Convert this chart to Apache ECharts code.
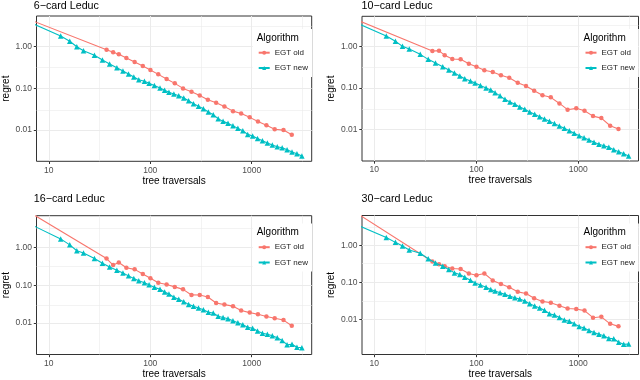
<!DOCTYPE html>
<html>
<head>
<meta charset="utf-8">
<script src="https://cdn.jsdelivr.net/npm/echarts@6/dist/echarts.min.js"></script>
<style>
  html, body { margin: 0; padding: 0; background: #fff; }
  #chart { width: 640px; height: 380px; }
</style>
</head>
<body>
<div id="chart"></div>
<script>
// ---- data ----
const panelTitles = ['6−card Leduc', '10−card Leduc', '16−card Leduc', '30−card Leduc']
const seriesNames = ['EGT old', 'EGT new']
const xTicks = [10, 100, 1000]
const yTicks = [0.01, 0.1, 1]
const xMinor = [31.62, 316.2, 3162] // half-decade grid lines
const yMinor = [0.003162, 0.03162, 0.3162, 3.162]
const xLimits = [7.57, 3900]
const yLimits = [[0.001786, 5.445], [0.001722, 5.284], [0.001476, 6.902], [0.001109, 6.397]]

// tree traversals (first point lies left of the visible range)
const xOld = [6, 37.1, 43.1, 49, 58.2, 70.2, 84.5, 100.4, 120, 145, 174.5, 210.5, 255, 307.5, 369.5, 446, 538, 654, 786.5, 956, 1152, 1396, 1685, 2056, 2481]
const xNew = [6, 13.1, 16.1, 18.9, 22.0, 28.2, 33.8, 39.8, 46.9, 53.8, 61.1, 68.9, 77.1, 87.7, 97.3, 109.8, 124.8, 138.6, 152.8, 171,
  191, 214, 239, 267, 299, 334, 374, 418, 467, 522, 584, 653, 730, 817, 913, 1021, 1141, 1276, 1427, 1596, 1785, 1995, 2231, 2495, 2790, 3119]

// regret
const regretOld6 = [4.79, 0.849, 0.733, 0.656, 0.536, 0.430, 0.344, 0.276, 0.217, 0.168, 0.132, 0.100, 0.0834, 0.0675, 0.0537, 0.0455, 0.0367, 0.0285, 0.0250, 0.0202, 0.0160, 0.0131, 0.0105, 0.0100, 0.0077]
const regretNew6 = [4.17, 1.81, 1.35, 1.00, 0.803, 0.621, 0.480, 0.385, 0.314, 0.261, 0.221, 0.188, 0.162, 0.148, 0.132, 0.118, 0.102, 0.0898, 0.0804, 0.0733,
  0.0668, 0.0588, 0.0507, 0.0430, 0.0371, 0.0326, 0.0271, 0.0234, 0.0188, 0.0162, 0.0145, 0.0127, 0.0110, 0.00966, 0.00789, 0.00719, 0.00632, 0.00556, 0.00489, 0.00438, 0.00399, 0.00378, 0.00338, 0.00297, 0.00271, 0.00238]

const regretOld10 = [4.89, 0.770, 0.785, 0.606, 0.494, 0.485, 0.382, 0.323, 0.264, 0.240, 0.200, 0.175, 0.133, 0.110, 0.0845, 0.0664, 0.0589, 0.0420, 0.0297, 0.0320, 0.0280, 0.0208, 0.0186, 0.0122, 0.0102]
const regretNew10 = [4.13, 1.77, 1.32, 0.998, 0.861, 0.640, 0.485, 0.396, 0.323, 0.268, 0.227, 0.192, 0.166, 0.146, 0.131, 0.113, 0.0991, 0.0886, 0.0764, 0.064,
  0.0527, 0.0455, 0.0400, 0.0345, 0.0303, 0.0261, 0.0230, 0.0201, 0.0177, 0.0156, 0.0137, 0.0120, 0.0106, 0.00927, 0.00800, 0.00703, 0.00629, 0.00552, 0.00485, 0.00435, 0.00403, 0.00368, 0.00323, 0.00289, 0.00259, 0.00227]

const regretOld16 = [9.6, 0.508, 0.341, 0.400, 0.290, 0.263, 0.199, 0.154, 0.116, 0.105, 0.0905, 0.0779, 0.0555, 0.0550, 0.0488, 0.0340, 0.0308, 0.0280, 0.0215, 0.0189, 0.0171, 0.0149, 0.0134, 0.0120, 0.0085]
const regretNew16 = [4.63, 1.68, 1.17, 0.819, 0.712, 0.508, 0.384, 0.303, 0.248, 0.211, 0.177, 0.150, 0.131, 0.116, 0.103, 0.0879, 0.0780, 0.0665, 0.0590, 0.0483,
  0.0428, 0.0365, 0.0312, 0.0277, 0.0250, 0.0226, 0.0193, 0.0185, 0.0152, 0.0140, 0.0130, 0.0115, 0.0102, 0.00906, 0.00771, 0.00726, 0.00619, 0.00539, 0.00508, 0.00460, 0.00408, 0.00348, 0.00268, 0.00274, 0.00229, 0.00224]

const regretOld30 = [9.0, 0.366, 0.305, 0.270, 0.235, 0.228, 0.172, 0.155, 0.172, 0.112, 0.090, 0.073, 0.055, 0.0495, 0.0368, 0.0303, 0.0280, 0.0230, 0.0194, 0.0188, 0.0171, 0.0110, 0.0116, 0.0075, 0.0064]
const regretNew30 = [4.12, 1.63, 1.20, 0.955, 0.748, 0.610, 0.431, 0.331, 0.270, 0.220, 0.179, 0.162, 0.137, 0.114, 0.0952, 0.084, 0.073, 0.064, 0.058, 0.052,
  0.047, 0.042, 0.038, 0.035, 0.031, 0.0263, 0.0228, 0.0202, 0.0175, 0.0140, 0.0129, 0.0112, 0.00948, 0.00874, 0.00757, 0.00631, 0.00581, 0.00493, 0.00437, 0.00394, 0.00356, 0.00302, 0.00296, 0.00237, 0.00209, 0.00214]

const regretOld = [regretOld6, regretOld10, regretOld16, regretOld30]
const regretNew = [regretNew6, regretNew10, regretNew16, regretNew30]

// ---- layout ----
const FONT = 'Liberation Sans, Arial, Helvetica, sans-serif'
const RED = '#F8766D'
const CYAN = '#00BFC4'
const panels = [
  { left: 34.3, top: 16, width: 277.4, height: 145.3, titleTop: 1, legendTop: 29, algTop: 33 },
  { left: 362, top: 16.3, width: 276.5, height: 144.7, titleTop: 1, legendTop: 29, algTop: 33 },
  { left: 34.3, top: 215.7, width: 277.4, height: 141.3, titleTop: 194, legendTop: 223.5, algTop: 227.5 },
  { left: 362, top: 215.5, width: 276.5, height: 141.2, titleTop: 194, legendTop: 223.5, algTop: 227.5 }
]

function isPow10(v) {
  const l = Math.log10(v)
  return Math.abs(l - Math.round(l)) < 1e-6
}

function toPoints(xs, ys) {
  return xs.map((x, j) => (j === 0 ? { value: [x, ys[j]], symbol: 'none' } : [x, ys[j]]))
}

function label(text, x, y, size) {
  return {
    type: 'text', x: x, y: y, z: 100, silent: true,
    style: { text: text, fill: '#000', fontSize: size, fontFamily: FONT, align: 'left', verticalAlign: 'top' }
  }
}

const chart = echarts.init(document.getElementById('chart'), null, { renderer: 'canvas' })

const option = {
  animation: false,
  textStyle: { fontFamily: FONT },
  graphic: [],
  legend: [],
  grid: [],
  xAxis: [],
  yAxis: [],
  series: []
}

panels.forEach((p, i) => {
  option.grid.push({
    left: p.left, top: p.top, width: p.width, height: p.height,
    show: true, borderColor: '#333', borderWidth: 1, backgroundColor: '#fff'
  })
  option.graphic.push(label(panelTitles[i], p.left - 0.5, p.titleTop, 10.7))
  option.graphic.push(label('Algorithm', p.left + p.width - 55, p.algTop, 10))
  option.legend.push({
    data: seriesNames, orient: 'vertical',
    left: p.left + p.width - 59, top: p.legendTop,
    itemWidth: 11, itemHeight: 5, itemGap: 7.3,
    padding: [19.7, 4, 5, 5], backgroundColor: '#fff',
    selectedMode: false,
    textStyle: { fontSize: 8, color: '#1a1a1a', fontFamily: FONT }
  })
  option.xAxis.push({
    type: 'log', logBase: 10, gridIndex: i,
    min: xLimits[0], max: xLimits[1],
    name: 'tree traversals', nameLocation: 'middle', nameGap: 14.5,
    nameTextStyle: { fontSize: 10, color: '#000', fontFamily: FONT },
    axisLine: { show: false },
    axisTick: { show: true, length: 2.7, customValues: xTicks, lineStyle: { color: '#333', width: 1 } },
    axisLabel: {
      color: '#4d4d4d', fontSize: 8.5, margin: 4.5, customValues: xTicks,
      formatter: v => (isPow10(v) ? String(Math.round(v)) : '')
    },
    splitLine: { show: true, lineStyle: { color: '#ebebeb', width: 1 } }
  })
  option.yAxis.push({
    type: 'log', logBase: 10, gridIndex: i,
    min: yLimits[i][0], max: yLimits[i][1],
    name: 'regret', nameLocation: 'middle', nameGap: 25.5,
    nameTextStyle: { fontSize: 10, color: '#000', fontFamily: FONT },
    axisLine: { show: false },
    axisTick: { show: true, length: 2.7, customValues: yTicks, lineStyle: { color: '#333', width: 1 } },
    axisLabel: {
      color: '#4d4d4d', fontSize: 8.5, margin: 4.5, customValues: yTicks,
      formatter: v => (isPow10(v) ? v.toFixed(2) : '')
    },
    splitLine: { show: true, lineStyle: { color: '#ebebeb', width: 1 } }
  })
  option.series.push({
    name: seriesNames[0], type: 'line', xAxisIndex: i, yAxisIndex: i,
    data: toPoints(xOld, regretOld[i]),
    symbol: 'circle', symbolSize: 4.5, color: RED,
    lineStyle: { width: 1.1 }, z: 3,
    emphasis: { disabled: true }
  })
  option.series.push({
    name: seriesNames[1], type: 'line', xAxisIndex: i, yAxisIndex: i,
    data: toPoints(xNew, regretNew[i]),
    symbol: 'triangle', symbolSize: 5.5, color: CYAN,
    lineStyle: { width: 1.1 }, z: 4,
    emphasis: { disabled: true },
    // minor (half-decade) grid lines drawn through the same axes
    markLine: {
      silent: true, z: 1, symbol: ['none', 'none'], label: { show: false },
      lineStyle: { color: '#ebebeb', width: 0.6, type: 'solid' },
      emphasis: { disabled: true },
      data: xMinor.map(v => ({ xAxis: v })).concat(yMinor.map(v => ({ yAxis: v })))
    }
  })
})

chart.setOption(option)
</script>
</body>
</html>
